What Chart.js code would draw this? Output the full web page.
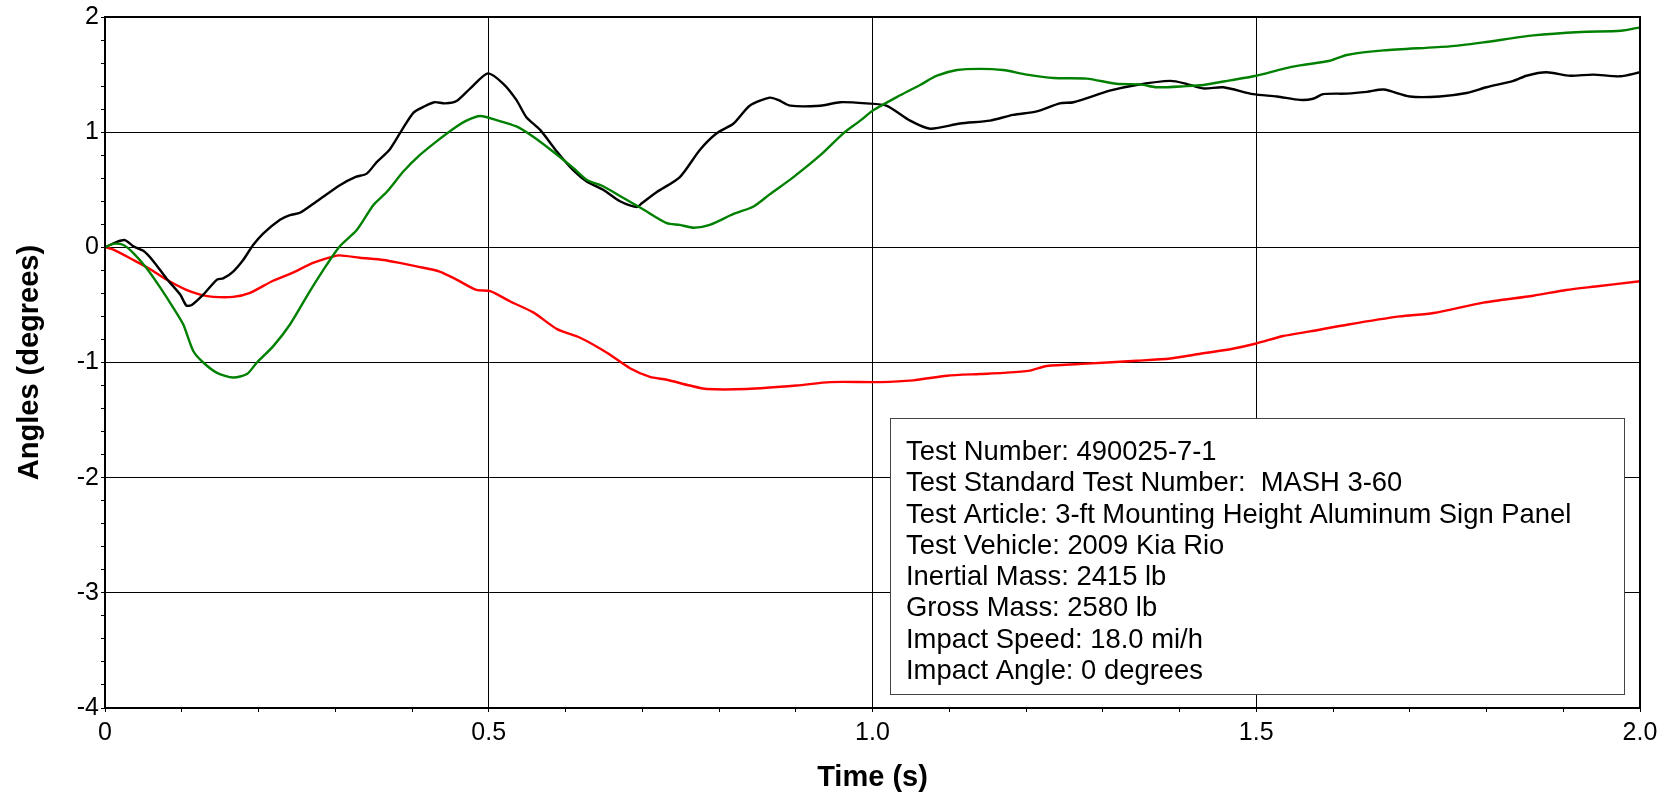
<!DOCTYPE html>
<html>
<head>
<meta charset="utf-8">
<script src="https://cdn.jsdelivr.net/npm/chart.js@4.4.1/dist/chart.umd.min.js"></script>
<style>
  html, body { margin: 0; padding: 0; background: #fff; }
  canvas { display: block; }
</style>
</head>
<body>
<canvas id="anglesChart" width="1669" height="798"></canvas>
<script>
// black trace
const blackT = [0, 0.015, 0.026, 0.037, 0.050, 0.063, 0.080, 0.098, 0.106, 0.113,
  0.128, 0.146, 0.154, 0.167, 0.180, 0.193, 0.206, 0.228, 0.241, 0.254,
  0.276, 0.306, 0.326, 0.341, 0.354, 0.371, 0.387, 0.402, 0.415, 0.429,
  0.443, 0.458, 0.476, 0.499, 0.519, 0.536, 0.549, 0.567, 0.589, 0.610,
  0.628, 0.649, 0.671, 0.693, 0.699, 0.719, 0.749, 0.775, 0.797, 0.819,
  0.840, 0.866, 0.877, 0.893, 0.932, 0.958, 0.992, 1.018, 1.049, 1.075,
  1.114, 1.153, 1.183, 1.214, 1.244, 1.262, 1.309, 1.344, 1.388, 1.409,
  1.431, 1.457, 1.496, 1.527, 1.557, 1.574, 1.587, 1.618, 1.644, 1.666,
  1.700, 1.739, 1.774, 1.800, 1.835, 1.852, 1.878, 1.909, 1.939, 1.974,
  2.0];
const blackV = [0, 0.046, 0.063, 0.008, -0.03, -0.12, -0.27, -0.41, -0.505, -0.50,
  -0.41, -0.28, -0.27, -0.21, -0.11, 0.02, 0.12, 0.24, 0.28, 0.30,
  0.40, 0.54, 0.61, 0.64, 0.74, 0.85, 1.02, 1.17, 1.22, 1.26,
  1.25, 1.27, 1.38, 1.51, 1.42, 1.28, 1.13, 1.02, 0.83, 0.67,
  0.57, 0.50, 0.40, 0.35, 0.38, 0.48, 0.61, 0.845, 0.99, 1.075,
  1.23, 1.30, 1.28, 1.23, 1.23, 1.26, 1.25, 1.23, 1.10, 1.03,
  1.075, 1.10, 1.15, 1.18, 1.25, 1.26, 1.36, 1.41, 1.445, 1.42,
  1.38, 1.39, 1.33, 1.31, 1.28, 1.29, 1.33, 1.335, 1.35, 1.37,
  1.31, 1.31, 1.34, 1.39, 1.445, 1.49, 1.52, 1.49, 1.50, 1.485,
  1.52];

// green trace
const greenT = [0, 0.011, 0.024, 0.037, 0.054, 0.072, 0.089, 0.102, 0.115, 0.128,
  0.146, 0.167, 0.185, 0.198, 0.219, 0.241, 0.267, 0.289, 0.306, 0.328,
  0.350, 0.367, 0.389, 0.410, 0.432, 0.454, 0.471, 0.489, 0.510, 0.536,
  0.558, 0.584, 0.610, 0.628, 0.649, 0.675, 0.701, 0.732, 0.749, 0.767,
  0.788, 0.819, 0.845, 0.866, 0.897, 0.932, 0.962, 0.984, 1.001, 1.036,
  1.062, 1.084, 1.110, 1.140, 1.170, 1.201, 1.236, 1.279, 1.318, 1.349,
  1.370, 1.409, 1.431, 1.466, 1.500, 1.535, 1.557, 1.596, 1.618, 1.666,
  1.752, 1.796, 1.861, 1.923, 1.975, 2.0];
const greenV = [0, 0.03, 0.02, -0.05, -0.18, -0.35, -0.525, -0.67, -0.90, -1.00,
  -1.09, -1.13, -1.10, -1.00, -0.86, -0.67, -0.38, -0.15, 0.01, 0.15,
  0.37, 0.48, 0.66, 0.80, 0.92, 1.03, 1.10, 1.14, 1.105, 1.05,
  0.96, 0.83, 0.69, 0.585, 0.53, 0.43, 0.33, 0.21, 0.195, 0.17,
  0.195, 0.29, 0.355, 0.46, 0.61, 0.80, 0.99, 1.10, 1.19, 1.32,
  1.41, 1.49, 1.54, 1.55, 1.54, 1.50, 1.47, 1.465, 1.42, 1.415,
  1.39, 1.40, 1.41, 1.45, 1.49, 1.55, 1.58, 1.62, 1.67, 1.71,
  1.745, 1.78, 1.84, 1.87, 1.88, 1.91];

// red trace
const redT = [0, 0.011, 0.037, 0.059, 0.080, 0.106, 0.124, 0.141, 0.167, 0.189,
  0.219, 0.245, 0.271, 0.297, 0.306, 0.332, 0.363, 0.384, 0.406, 0.436,
  0.458, 0.484, 0.502, 0.528, 0.558, 0.589, 0.619, 0.654, 0.684, 0.710,
  0.732, 0.762, 0.784, 0.836, 0.901, 0.945, 1.010, 1.053, 1.097, 1.140,
  1.170, 1.205, 1.227, 1.279, 1.344, 1.388, 1.431, 1.466, 1.500, 1.535,
  1.570, 1.620, 1.687, 1.731, 1.796, 1.861, 1.904, 1.942, 2.0];
const redV = [0, -0.02, -0.11, -0.19, -0.28, -0.37, -0.41, -0.43, -0.43, -0.395,
  -0.29, -0.22, -0.135, -0.08, -0.07, -0.09, -0.11, -0.135, -0.165, -0.21,
  -0.28, -0.37, -0.38, -0.47, -0.565, -0.71, -0.785, -0.915, -1.05, -1.125,
  -1.15, -1.20, -1.23, -1.23, -1.20, -1.17, -1.17, -1.155, -1.115, -1.10,
  -1.09, -1.07, -1.03, -1.01, -0.985, -0.965, -0.92, -0.885, -0.835, -0.77,
  -0.73, -0.67, -0.60, -0.57, -0.48, -0.42, -0.37, -0.34, -0.295];

const infoLines = [
  'Test Number: 490025-7-1',
  'Test Standard Test Number:  MASH 3-60',
  'Test Article: 3-ft Mounting Height Aluminum Sign Panel',
  'Test Vehicle: 2009 Kia Rio',
  'Inertial Mass: 2415 lb',
  'Gross Mass: 2580 lb',
  'Impact Speed: 18.0 mi/h',
  'Impact Angle: 0 degrees'
];

const FONT = "'Liberation Sans', Arial, sans-serif";

function toPoints(ts, vs) {
  return ts.map((t, i) => ({ x: t, y: vs[i] }));
}

const isWhole = v => Math.abs(v - Math.round(v)) < 1e-6;
const isHalf = v => Math.abs(v * 2 - Math.round(v * 2)) < 1e-6;

// box round the plot area
const frame = {
  id: 'frame',
  afterDatasetsDraw(chart) {
    const { ctx, chartArea: a } = chart;
    ctx.save();
    ctx.strokeStyle = '#000';
    ctx.lineWidth = 2;
    ctx.strokeRect(a.left, a.top, a.right - a.left, a.bottom - a.top);
    ctx.restore();
  }
};

// test info box, lower right
const infoBox = {
  id: 'infoBox',
  afterDraw(chart) {
    const { ctx, chartArea: a } = chart;
    const x = a.right - 750, y = a.top + 401, w = 734, h = 276;
    ctx.save();
    ctx.fillStyle = '#fff';
    ctx.fillRect(x, y, w, h);
    ctx.strokeStyle = '#444';
    ctx.lineWidth = 1;
    ctx.strokeRect(x + 0.5, y + 0.5, w, h);
    ctx.fillStyle = '#000';
    ctx.font = '27.4px ' + FONT;
    ctx.textBaseline = 'alphabetic';
    infoLines.forEach((line, i) => {
      ctx.fillText(line, x + 16, y + 42 + i * 31.25);
    });
    ctx.restore();
  }
};

new Chart(document.getElementById('anglesChart'), {
  type: 'line',
  data: {
    datasets: [
      { label: 'green', data: toPoints(greenT, greenV), borderColor: '#008000' },
      { label: 'black', data: toPoints(blackT, blackV), borderColor: '#000000' },
      { label: 'red', data: toPoints(redT, redV), borderColor: '#ff0000' }
    ]
  },
  options: {
    responsive: false,
    animation: false,
    devicePixelRatio: 1,
    layout: { padding: { top: 15, right: 29, left: 0, bottom: 0 } },
    plugins: {
      legend: { display: false },
      tooltip: { enabled: false }
    },
    elements: {
      point: { radius: 0 },
      line: { borderWidth: 2.4, tension: 0.25, fill: false }
    },
    scales: {
      x: {
        type: 'linear',
        min: 0,
        max: 2,
        afterFit: s => { s.height = 90; },
        border: { color: '#000', width: 2 },
        grid: {
          color: c => isHalf(c.tick.value) ? '#000' : 'rgba(0,0,0,0)',
          tickColor: '#000',
          tickLength: 4,
          lineWidth: 1
        },
        ticks: {
          stepSize: 0.1,
          autoSkip: false,
          maxRotation: 0,
          padding: 6,
          color: '#000',
          font: { family: FONT, size: 25 },
          callback: v => isHalf(v) ? (v === 0 ? '0' : v.toFixed(1)) : ''
        },
        title: {
          display: true,
          text: 'Time (s)',
          color: '#000',
          font: { family: FONT, size: 29, weight: 'bold' },
          padding: { top: 0, bottom: 3 }
        }
      },
      y: {
        min: -4,
        max: 2,
        afterFit: s => { s.width = 105; },
        border: { color: '#000', width: 2 },
        grid: {
          color: c => isWhole(c.tick.value) ? '#000' : 'rgba(0,0,0,0)',
          tickColor: '#000',
          tickLength: 4,
          lineWidth: 1
        },
        ticks: {
          stepSize: 0.2,
          autoSkip: false,
          padding: 2,
          color: '#000',
          font: { family: FONT, size: 25 },
          callback: v => isWhole(v) ? String(Math.round(v)) : ''
        },
        title: {
          display: true,
          text: 'Angles (degrees)',
          color: '#000',
          font: { family: FONT, size: 29, weight: 'bold' },
          padding: { top: 13, bottom: 0 }
        }
      }
    }
  },
  plugins: [frame, infoBox]
});
</script>
</body>
</html>
